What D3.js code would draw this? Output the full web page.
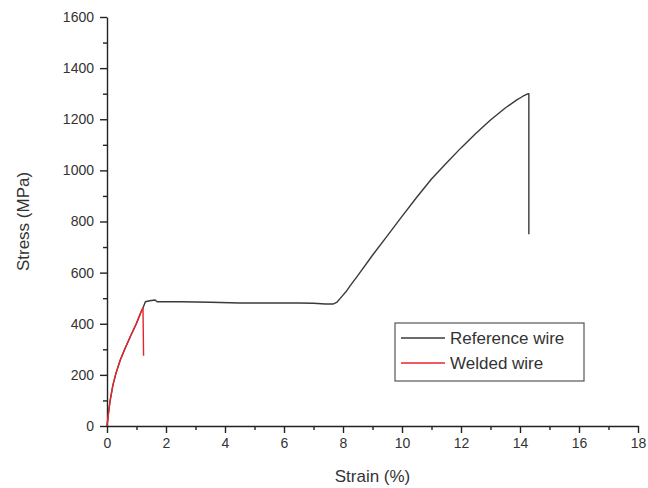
<!DOCTYPE html>
<html>
<head>
<meta charset="utf-8">
<script src="https://cdn.jsdelivr.net/npm/d3@7/dist/d3.min.js"></script>
<style>
  body { margin: 0; background: #fff; }
  svg { font-family: Arial, "Liberation Sans", sans-serif; }
  .axis path, .axis line { stroke: #222; stroke-width: 1.4; }
  .axis text { font-size: 14px; fill: #333; }
</style>
</head>
<body>
<svg width="648" height="488"></svg>
<script>
// reference wire (strain %, stress MPa)
var refStrain = [0, 0.05, 0.1, 0.2, 0.3, 0.45, 0.6, 0.8, 1.0, 1.15, 1.22, 1.3, 1.45, 1.63, 1.7, 2.5, 3.5, 4.5, 5.5, 6.5, 7.0, 7.4, 7.66, 7.8, 7.95, 8.1, 8.24, 8.5, 9.0, 9.5, 10.0, 10.5, 11.0, 11.5, 12.0, 12.5, 13.0, 13.5, 13.88, 14.1, 14.26, 14.3, 14.3];
var refStress = [0, 50, 95, 160, 205, 258, 300, 352, 402, 445, 462, 486, 490, 493, 486, 486, 484, 481, 481, 481, 480, 477, 477, 485, 505, 525, 548, 588, 668, 744, 820, 895, 966, 1028, 1088, 1144, 1197, 1244, 1275, 1290, 1299, 1300, 750];
// welded wire
var weldStrain = [0, 0.05, 0.1, 0.2, 0.3, 0.45, 0.6, 0.8, 1.0, 1.15, 1.22, 1.24];
var weldStress = [0, 50, 95, 160, 205, 258, 300, 352, 402, 445, 462, 275];
var xTicks = [0, 2, 4, 6, 8, 10, 12, 14, 16, 18];
var yTicks = [0, 200, 400, 600, 800, 1000, 1200, 1400, 1600];
var seriesNames = ["Reference wire", "Welded wire"];
var seriesColors = ["#3a3a3a", "#e8242a"];

var svg = d3.select("svg");
var margin = { top: 17, right: 10, bottom: 62, left: 107 };
var width = 648 - margin.left - margin.right;
var height = 488 - margin.top - margin.bottom;

var x = d3.scaleLinear().domain([0, 18]).range([0, width]);
var y = d3.scaleLinear().domain([0, 1600]).range([height, 0]);
var g = svg.append("g").attr("transform", "translate(" + margin.left + "," + margin.top + ")");

// minor ticks first
g.append("g")
    .attr("class", "axis")
    .attr("transform", "translate(0," + height + ")")
    .call(d3.axisBottom(x).tickValues(d3.range(1, 18, 2)).tickSize(4).tickFormat(""))
    .select(".domain").remove();
g.append("g")
    .attr("class", "axis")
    .call(d3.axisLeft(y).tickValues(d3.range(100, 1600, 200)).tickSize(4).tickFormat(""))
    .select(".domain").remove();

g.append("g")
    .attr("class", "axis")
    .attr("transform", "translate(0," + height + ")")
    .call(d3.axisBottom(x).tickValues(xTicks).tickSize(7).tickSizeOuter(0).tickPadding(5).tickFormat(d3.format("d")));

g.append("g")
    .attr("class", "axis")
    .call(d3.axisLeft(y).tickValues(yTicks).tickSize(7).tickSizeOuter(0).tickPadding(6).tickFormat(d3.format("d")));

svg.append("text")
    .attr("x", margin.left + width / 2)
    .attr("y", 482)
    .attr("text-anchor", "middle")
    .style("font-size", "17px")
    .style("fill", "#333")
    .text("Strain (%)");

svg.append("text")
    .attr("transform", "translate(29," + (margin.top + height / 2) + ") rotate(-90)")
    .attr("text-anchor", "middle")
    .style("font-size", "17px")
    .style("fill", "#333")
    .text("Stress (MPa)");

var line = d3.line()
    .x(function (d) { return x(d[0]); })
    .y(function (d) { return y(d[1]); });

var series = [
    d3.zip(refStrain, refStress),
    d3.zip(weldStrain, weldStress)
];

series.forEach(function (s, i) {
    g.append("path")
        .datum(s)
        .attr("fill", "none")
        .attr("stroke", seriesColors[i])
        .attr("stroke-width", 1.4)
        .attr("stroke-linejoin", "round")
        .attr("d", line);
});

// legend
var lg = svg.append("g").attr("transform", "translate(395,323)");
lg.append("rect")
    .attr("width", 189)
    .attr("height", 58)
    .attr("fill", "#fff")
    .attr("stroke", "#555")
    .attr("stroke-width", 1.2);
seriesNames.forEach(function (name, i) {
    var ly = 15 + i * 25;
    lg.append("line")
        .attr("x1", 6).attr("x2", 50)
        .attr("y1", ly).attr("y2", ly)
        .attr("stroke", seriesColors[i])
        .attr("stroke-width", 1.4);
    lg.append("text")
        .attr("x", 55)
        .attr("y", ly + 6)
        .style("font-size", "17px")
        .style("fill", "#333")
        .text(name);
});
</script>
</body>
</html>
